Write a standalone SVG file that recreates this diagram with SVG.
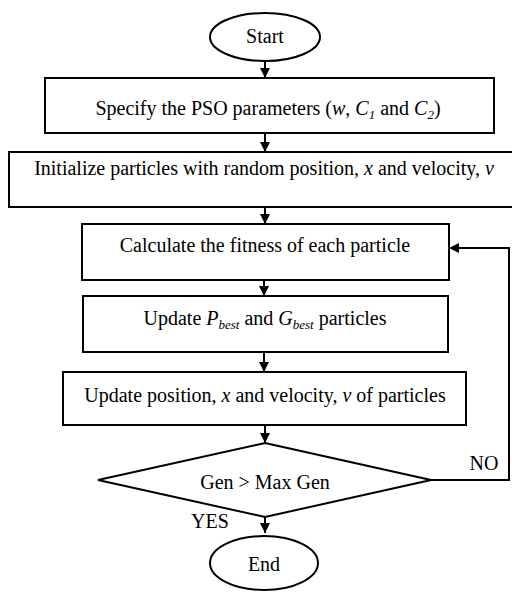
<svg xmlns="http://www.w3.org/2000/svg" width="512" height="592" viewBox="0 0 512 592">
<defs>
<marker id="ah" viewBox="0 0 10 10" refX="10" refY="5" markerWidth="10" markerHeight="10" markerUnits="userSpaceOnUse" orient="auto">
<path d="M0,0 L10,5 L0,10 Z" fill="#000"/>
</marker>
<style>
.s{fill:#fff;stroke:#000;stroke-width:2}
.t{font-family:"Liberation Serif","Times New Roman",serif;font-size:20px;fill:#000;text-anchor:middle}
.i{font-style:italic}
.sub{font-size:13px;font-style:italic}
.c{fill:none;stroke:#000;stroke-width:2}
</style>
</defs>
<rect width="512" height="592" fill="#fff"/>
<g id="connectors">
<line class="c" x1="265" y1="61" x2="265" y2="78" marker-end="url(#ah)"/>
<line class="c" x1="265" y1="133" x2="265" y2="152" marker-end="url(#ah)"/>
<line class="c" x1="265" y1="207" x2="265" y2="224" marker-end="url(#ah)"/>
<line class="c" x1="264" y1="280" x2="264" y2="296" marker-end="url(#ah)"/>
<line class="c" x1="264" y1="352" x2="264" y2="372" marker-end="url(#ah)"/>
<line class="c" x1="265" y1="425" x2="265" y2="443" marker-end="url(#ah)"/>
<line class="c" x1="265" y1="517" x2="265" y2="533" marker-end="url(#ah)"/>
<polyline class="c" points="431,480 509,480 509,248 449,248" marker-end="url(#ah)"/>
<text class="t" x="484" y="470">NO</text>
<text class="t" x="210" y="528">YES</text>
</g>
<g id="start">
<ellipse class="s" cx="265" cy="37" rx="55" ry="24"/>
<text class="t" x="265" y="43">Start</text>
</g>
<g id="specify">
<rect class="s" x="45" y="78" width="449" height="55"/>
<text class="t" x="268" y="115">Specify the PSO parameters (<tspan class="i">w</tspan>, <tspan class="i">C</tspan><tspan class="sub" dy="4">1</tspan><tspan dy="-4"> and </tspan><tspan class="i">C</tspan><tspan class="sub" dy="4">2</tspan><tspan dy="-4">)</tspan></text>
</g>
<g id="init">
<rect class="s" x="9" y="152" width="510" height="55"/>
<text class="t" x="264" y="175">Initialize particles with random position, <tspan class="i">x</tspan> and velocity, <tspan class="i">v</tspan></text>
</g>
<g id="fitness">
<rect class="s" x="82" y="224" width="367" height="56"/>
<text class="t" x="265" y="252">Calculate the fitness of each particle</text>
</g>
<g id="best">
<rect class="s" x="83" y="296" width="365" height="56"/>
<text class="t" x="265" y="325">Update <tspan class="i">P</tspan><tspan class="sub" dy="4">best</tspan><tspan dy="-4"> and </tspan><tspan class="i">G</tspan><tspan class="sub" dy="4">best</tspan><tspan dy="-4"> particles</tspan></text>
</g>
<g id="update">
<rect class="s" x="63" y="372" width="403" height="53"/>
<text class="t" x="265" y="402">Update position, <tspan class="i">x</tspan> and velocity, <tspan class="i">v</tspan> of particles</text>
</g>
<g id="decision">
<polygon class="s" points="265,443 431,480 265,517 98,480"/>
<text class="t" x="265" y="489">Gen &gt; Max Gen</text>
</g>
<g id="end">
<ellipse class="s" cx="264" cy="563" rx="54" ry="27"/>
<text class="t" x="264" y="571">End</text>
</g>
</svg>
